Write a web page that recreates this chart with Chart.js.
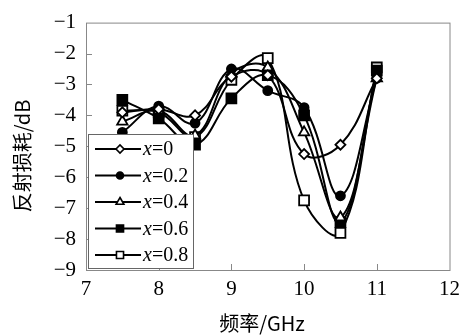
<!DOCTYPE html>
<html>
<head>
<meta charset="utf-8">
<script src="https://cdn.jsdelivr.net/npm/chart.js@4/dist/chart.umd.min.js"></script>
<style>
  html, body { margin:0; padding:0; background:#fff; }
  #wrap { position:relative; width:467px; height:336px; }
</style>
</head>
<body>
<div id="wrap"><canvas id="chart" width="467" height="336"></canvas></div>
<script>
// ── DATA ──
const freqs = [7.5, 8, 8.5, 9, 9.5, 10, 10.5, 11];
const seriesNames = ['0', '0.2', '0.4', '0.6', '0.8'];
const rl_x00 = [-3.9, -3.8, -4.0, -2.75, -2.7, -5.25, -4.95, -2.8];
const rl_x02 = [-4.55, -3.7, -4.25, -2.5, -3.2, -3.75, -6.6, -2.8];
const rl_x04 = [-4.2, -3.85, -4.65, -2.65, -2.45, -4.55, -7.3, -2.8];
const rl_x06 = [-3.5, -4.1, -4.95, -3.45, -2.7, -4.0, -7.45, -2.55];
const rl_x08 = [-3.85, -3.9, -4.7, -2.85, -2.15, -6.75, -7.8, -2.45];
const xTicks = [7, 8, 9, 10, 11, 12];
const yTicks = [-9, -8, -7, -6, -5, -4, -3, -2, -1];

const SERIF = '"Liberation Serif", "DejaVu Serif", serif';
const CJK = '"Noto Sans CJK SC", sans-serif';

// marker style per series
const markers = [
    { style:'rectRot',  fill:'#fff', r:5,   lr:4 },
    { style:'circle',   fill:'#000', r:4.5, lr:3.5 },
    { style:'triangle', fill:'#fff', r:6,   lr:4.5 },
    { style:'rect',     fill:'#000', r:7,   lr:5 },
    { style:'rect',     fill:'#fff', r:7,   lr:5 }
];
const allSeries = [rl_x00, rl_x02, rl_x04, rl_x06, rl_x08];

const datasets = allSeries.map((vals, i) => ({
    label: 'x=' + seriesNames[i],
    data: vals.map((v, j) => ({ x: freqs[j], y: v })),
    borderColor: '#000',
    borderWidth: 2,
    tension: 0.4,
    pointStyle: markers[i].style,
    pointRadius: markers[i].r,
    pointBackgroundColor: markers[i].fill,
    pointBorderColor: '#000',
    pointBorderWidth: 1.8,
    fill: false
}));

const minus = v => (v < 0 ? '\u2212' : '') + Math.abs(v);

// frame, inward ticks, titles, legend
const decor = {
    id: 'decor',
    beforeDatasetsDraw(chart) {
        const { ctx, chartArea: a, scales } = chart;
        ctx.save();
        ctx.strokeStyle = '#888';
        ctx.lineWidth = 1;
        ctx.strokeRect(a.left + 0.5, a.top + 0.5, a.right - a.left, a.bottom - a.top);
        ctx.beginPath();
        xTicks.slice(1, -1).forEach(t => {
            const px = Math.round(scales.x.getPixelForValue(t)) + 0.5;
            ctx.moveTo(px, a.bottom); ctx.lineTo(px, a.bottom - 6);
        });
        yTicks.slice(1, -1).forEach(t => {
            const py = Math.round(scales.y.getPixelForValue(t)) + 0.5;
            ctx.moveTo(a.left, py); ctx.lineTo(a.left + 6, py);
        });
        ctx.stroke();
        ctx.restore();
    },
    afterDraw(chart) {
        const { ctx } = chart;
        ctx.save();
        ctx.fillStyle = '#000';
        ctx.textAlign = 'center';
        ctx.textBaseline = 'middle';
        // axis titles
        ctx.font = '20px ' + CJK;
        ctx.fillText('频率/GHz', 262, 323);
        ctx.translate(22, 156);
        ctx.rotate(-Math.PI / 2);
        ctx.fillText('反射损耗/dB', 0, 0);
        ctx.restore();

        // legend box
        ctx.save();
        ctx.fillStyle = '#fff';
        ctx.fillRect(88, 134, 105, 134);
        ctx.strokeStyle = '#666';
        ctx.lineWidth = 1;
        ctx.strokeRect(88.5, 134.5, 105, 134);
        seriesNames.forEach((n, i) => {
            const y = 149 + i * 26.5;
            ctx.strokeStyle = '#000';
            ctx.lineWidth = 2;
            ctx.beginPath();
            ctx.moveTo(95, y); ctx.lineTo(141, y);
            ctx.stroke();
            ctx.fillStyle = markers[i].fill;
            ctx.lineWidth = 1.6;
            Chart.helpers.drawPoint(ctx, { pointStyle: markers[i].style, radius: markers[i].lr, rotation: 0, borderWidth: 1.6 }, 120, y);
            ctx.fillStyle = '#000';
            ctx.textAlign = 'left';
            ctx.textBaseline = 'middle';
            ctx.font = 'italic 20px ' + SERIF;
            ctx.fillText('x', 143, y + 1);
            const w = ctx.measureText('x').width;
            ctx.font = '20px ' + SERIF;
            ctx.fillText('=' + n, 143 + w, y + 1);
        });
        ctx.restore();
    }
};

new Chart(document.getElementById('chart'), {
    type: 'line',
    data: { datasets },
    options: {
        responsive: false,
        animation: false,
        layout: { padding: { top: 15, right: 10, left: 0, bottom: 0 } },
        plugins: { legend: { display: false }, tooltip: { enabled: false } },
        scales: {
            x: {
                type: 'linear', min: 7, max: 12,
                afterFit: s => { s.height = 66; },
                afterBuildTicks: s => { s.ticks = xTicks.map(v => ({ value: v })); },
                ticks: { color: '#000', font: { family: SERIF, size: 21 }, padding: 7, maxRotation: 0 },
                grid: { display: false, drawTicks: false },
                border: { display: false }
            },
            y: {
                type: 'linear', min: -9, max: -1,
                afterFit: s => { s.width = 86; },
                afterBuildTicks: s => { s.ticks = yTicks.map(v => ({ value: v })); },
                ticks: { color: '#000', font: { family: SERIF, size: 21 }, padding: 10, callback: minus },
                grid: { display: false, drawTicks: false },
                border: { display: false }
            }
        }
    },
    plugins: [decor]
});
</script>
</body>
</html>
